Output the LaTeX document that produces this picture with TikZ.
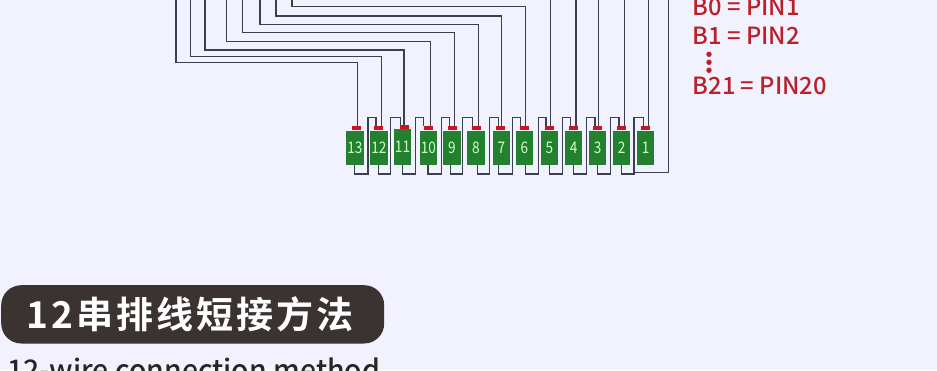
\documentclass[tikz,border=0pt]{standalone}
\usepackage{fontspec}
\usepackage{xcolor}
\setmainfont{Noto Sans CJK SC Medium}
\newfontfamily\cellfont[FakeStretch=0.85]{Noto Sans CJK SC}
\newfontfamily\pillfont[LetterSpace=8]{Noto Sans CJK SC Bold}
\definecolor{paper}{HTML}{F2F1FE}
\definecolor{cellgreen}{HTML}{23802F}
\definecolor{capred}{HTML}{C9151E}
\definecolor{wiregray}{HTML}{3C3F50}
\definecolor{notered}{HTML}{B9202A}
\definecolor{pilldark}{HTML}{3A3331}
\tikzset{
  cellbox/.style={fill=cellgreen, text=green!20!white, inner sep=0pt, minimum width=17.4pt, anchor=south, font=\cellfont\fontsize{16}{16}\selectfont},
  capbox/.style={fill=capred, inner sep=0pt, minimum width=9pt, minimum height=4pt, anchor=south},
  wire/.style={draw=wiregray, line width=1.3pt, line join=miter},
  note/.style={text=notered, anchor=base west, inner sep=0pt, font=\fontsize{23.7}{23.7}\selectfont},
  notedot/.style={circle, fill=notered, inner sep=0pt, minimum size=5.4pt}
}
\begin{document}
\begin{tikzpicture}[x=1pt,y=-1pt]
  \clip (0,0) rectangle (937,370);
  \fill[paper] (0,0) rectangle (937,370);

  % cells with their caps
  \foreach \n/\cx/\h/\capx in {13/354.8/34.3/356.2, 12/378.8/34.3/378.8, 11/402.5/35.7/404.3, 10/428.3/34.3/428.3, 9/452/34.3/452.3, 8/476/34.3/476.3, 7/501.3/34.3/500.3, 6/524.3/34.3/524.3, 5/549.3/34.3/549.3, 4/573.7/34.3/573.3, 3/597.7/34.3/597.3, 2/621.7/34.3/621.3, 1/645.7/34.3/645.3}{
    \node[cellbox, minimum height=\h pt] (cell\n) at (\cx,165) {\n};
    \node[capbox] (cap\n) at (\capx,0 |- cell\n.north) {};
  }

  % wires going out at the top
  \foreach \n/\wx/\lx/\ly in {13/357.3/176/62.7, 12/381.3/190.7/56.7, 11/404/205/50, 10/430.7/226.7/41.7, 9/454.7/242.7/32.3, 8/478.7/260/24.3, 7/501.3/276/16, 6/525.5/292/6.7}{
    \draw[wire] (cap\n.north -| \wx,0) -- (\wx,\ly) -- (\lx,\ly) -- (\lx,0);
  }
  \foreach \n/\wx in {5/550.8, 4/576, 3/598.8, 2/624.2, 1/648.3}{
    \draw[wire] (cap\n.north -| \wx,0) -- (\wx,0);
  }

  % short links between neighbouring cells
  \foreach \n/\m/\bx/\ux/\tx in {13/12/354.7/368/376, 12/11/378.7/390.7/400.7, 11/10/402.7/415.3/423.3, 10/9/428/441.3/449.3, 9/8/450.7/462.7/472.7, 8/7/477.3/489.3/498.7, 7/6/498.7/512.3/520.7, 6/5/525.3/538.3/546, 5/4/549.3/562.7/570.7, 4/3/573.3/586.7/595, 3/2/597.3/610.7/619}{
    \draw[wire] (cell\n.south -| \bx,0) -- (\bx,174) -- (\ux,174) -- (\ux,117.3) -- (\tx,117.3) -- (cap\m.north -| \tx,0);
  }
  \draw[wire] (cell2.south -| 621.3,0) -- (621.3,174) -- (634,174) -- (634,117.3) -- (643.3,117.3) -- (cap1.north -| 643.3,0);
  \draw[wire] (634,172.3) -- (668.3,172.3) -- (668.3,0);

  % pin notes
  \node[note] (noteB0) at (692.5,15) {B0 = PIN1};
  \node[note] (noteB1) at (692.5,44) {B1 = PIN2};
  \node[note] (noteB21) at (692.5,94.3) {B21 = PIN20};
  \foreach \i/\dy in {1/54.3, 2/62.3, 3/70.3}
    \node[notedot] (notedot\i) at (709,\dy) {};

  % title
  \node[fill=pilldark, rounded corners=20pt, minimum width=383pt, minimum height=58.3pt, inner sep=0pt, anchor=north west] (pill) at (1,285) {};
  \node[text=white, inner sep=0pt, font=\pillfont\fontsize{37}{37}\selectfont] (pilltext) at (190,314.5) {12串排线短接方法};
  \node[text=black!85, inner sep=0pt, anchor=base west, font=\fontsize{28.4}{28.4}\selectfont] (subtitle) at (7,380.5) {12-wire connection method};
\end{tikzpicture}
\end{document}
